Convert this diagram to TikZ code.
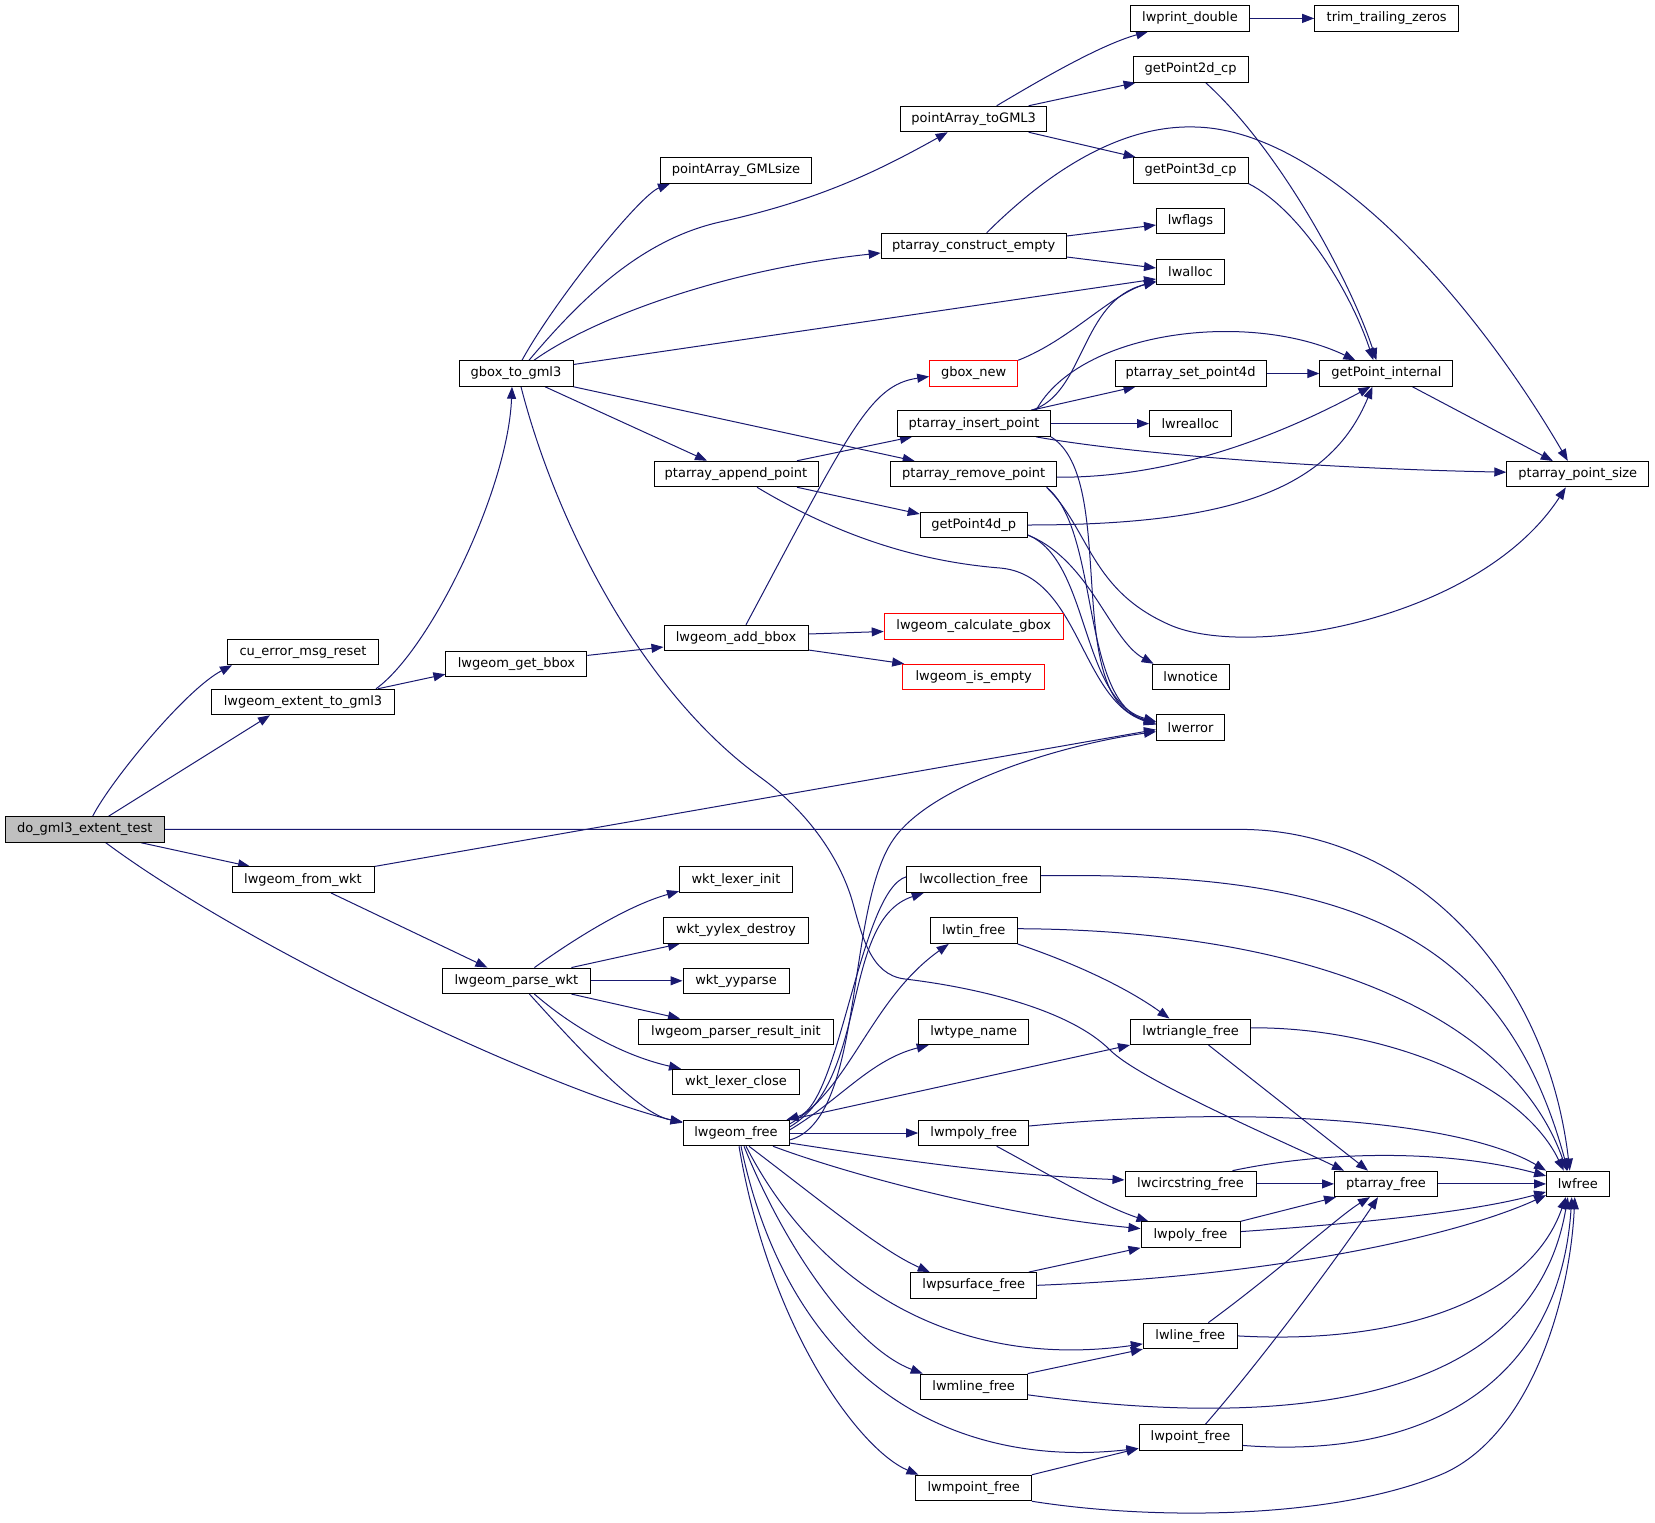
\documentclass[tikz,border=0pt]{standalone}
\usepackage{fontspec}
\setmainfont{DejaVu Sans}
\usetikzlibrary{arrows.meta}
\definecolor{edgec}{HTML}{191970}
\definecolor{rootgray}{HTML}{BFBFBF}
\pgfdeclarelayer{bg}
\pgfsetlayers{bg,main}
\tikzset{
  nb/.style={draw=black, line width=1pt, fill=white, minimum height=25.5pt, inner sep=0pt, font=\fontsize{13}{15}\selectfont},
  rd/.style={nb, draw=red},
  e/.style={draw=edgec, line width=1pt, -{Triangle[length=12pt,width=9pt]}},
}
\begin{document}
\begin{tikzpicture}[x=1pt,y=-1pt]
\useasboundingbox (0,0) rectangle (1655,1523);
% column 1
\node[nb, minimum width=159pt, fill=rootgray] (A) at (84.7,829.4) {do\_gml3\_extent\_test};
% column 2
\node[nb, minimum width=151pt] (cu) at (303,652) {cu\_error\_msg\_reset};
\node[nb, minimum width=183pt] (ext) at (303,702) {lwgeom\_extent\_to\_gml3};
\node[nb, minimum width=142pt] (fw) at (303,879.7) {lwgeom\_from\_wkt};
% column 3
\node[nb, minimum width=114pt] (gb) at (516,373.5) {gbox\_to\_gml3};
\node[nb, minimum width=141pt] (gbb) at (516.4,664) {lwgeom\_get\_bbox};
\node[nb, minimum width=148pt] (pw) at (516.4,980.8) {lwgeom\_parse\_wkt};
% column 4
\node[nb, minimum width=151pt] (gml) at (736,170.5) {pointArray\_GMLsize};
\node[nb, minimum width=164pt] (app) at (736,474) {ptarray\_append\_point};
\node[nb, minimum width=144pt] (addb) at (736,638) {lwgeom\_add\_bbox};
\node[nb, minimum width=113pt] (wli) at (736,879.7) {wkt\_lexer\_init};
\node[nb, minimum width=145pt] (wyd) at (736,930.4) {wkt\_yylex\_destroy};
\node[nb, minimum width=106pt] (wyp) at (736,980.8) {wkt\_yyparse};
\node[nb, minimum width=195pt] (wpr) at (736,1031.8) {lwgeom\_parser\_result\_init};
\node[nb, minimum width=127pt] (wlc) at (736,1082) {wkt\_lexer\_close};
\node[nb, minimum width=106pt] (lf) at (736,1133) {lwgeom\_free};
% column 5
\node[nb, minimum width=146pt] (tg) at (973.7,119) {pointArray\_toGML3};
\node[nb, minimum width=185pt] (pce) at (973.7,246) {ptarray\_construct\_empty};
\node[rd, minimum width=88pt] (gbn) at (973.7,373.5) {gbox\_new};
\node[nb, minimum width=153pt] (pip) at (974,423.6) {ptarray\_insert\_point};
\node[nb, minimum width=166pt] (prp) at (973.7,474.2) {ptarray\_remove\_point};
\node[nb, minimum width=107pt] (g4) at (973.7,525) {getPoint4d\_p};
\node[rd, minimum width=179pt] (lcg) at (973.7,626.5) {lwgeom\_calculate\_gbox};
\node[rd, minimum width=142pt] (lie) at (973.7,677) {lwgeom\_is\_empty};
\node[nb, minimum width=133.5pt] (lcf) at (973.7,879.7) {lwcollection\_free};
\node[nb, minimum width=87pt] (ltf) at (973.7,930.7) {lwtin\_free};
\node[nb, minimum width=110pt] (ltn) at (973.7,1031.8) {lwtype\_name};
\node[nb, minimum width=110pt] (lmpf) at (973.7,1133) {lwmpoly\_free};
\node[nb, minimum width=126pt] (lps) at (973.8,1285.3) {lwpsurface\_free};
\node[nb, minimum width=107pt] (lml) at (973.7,1386.8) {lwmline\_free};
\node[nb, minimum width=115.5pt] (lmp) at (973.7,1488) {lwmpoint\_free};
% column 6
\node[nb, minimum width=118.6pt] (lpd) at (1190,18.4) {lwprint\_double};
\node[nb, minimum width=115pt] (g2) at (1190.6,69.4) {getPoint2d\_cp};
\node[nb, minimum width=115pt] (g3) at (1190.6,170.4) {getPoint3d\_cp};
\node[nb, minimum width=68pt] (lfl) at (1190.5,221) {lwflags};
\node[nb, minimum width=68pt] (lal) at (1190.5,272) {lwalloc};
\node[nb, minimum width=151pt] (sp4) at (1190.5,373.5) {ptarray\_set\_point4d};
\node[nb, minimum width=81.5pt] (lra) at (1190.3,423.6) {lwrealloc};
\node[nb, minimum width=77pt] (lno) at (1190.6,677) {lwnotice};
\node[nb, minimum width=68pt] (ler) at (1190.5,727.6) {lwerror};
\node[nb, minimum width=120pt] (ltr) at (1190.5,1031.8) {lwtriangle\_free};
\node[nb, minimum width=131pt] (lcs) at (1190.5,1183.9) {lwcircstring\_free};
\node[nb, minimum width=99pt] (lpo) at (1190.5,1234.6) {lwpoly\_free};
\node[nb, minimum width=94pt] (lli) at (1190.3,1335.9) {lwline\_free};
\node[nb, minimum width=103pt] (lpt) at (1190.5,1437.4) {lwpoint\_free};
% column 7
\node[nb, minimum width=144pt] (ttz) at (1386.7,18.4) {trim\_trailing\_zeros};
\node[nb, minimum width=133pt] (gpi) at (1386.4,373.5) {getPoint\_internal};
\node[nb, minimum width=103pt] (paf) at (1386,1183.9) {ptarray\_free};
% column 8
\node[nb, minimum width=142pt] (pps) at (1577.8,474.2) {ptarray\_point\_size};
\node[nb, minimum width=62.5pt] (lwf) at (1577.8,1183.9) {lwfree};

\begin{pgfonlayer}{bg}
% from root
\draw[e] ([xshift=8]A.north) .. controls (110,782) and (185,690) .. ([xshift=-71]cu.south);
\draw[e] ([xshift=24]A.north) -- ([xshift=-33]ext.south);
\draw[e] ([xshift=56]A.south) -- ([xshift=-53]fw.north);
\draw[e] (A.east) -- (1240,829.4) .. controls (1400,829.4) and (1545,960) .. ([xshift=-8]lwf.north);
\draw[e] ([xshift=21]A.south) .. controls (250,950) and (550,1090) .. ([yshift=-3]lf.north west);
% column 2
\draw[e] ([xshift=73]ext.north) .. controls (430,650) and (508,490) .. ([xshift=-4]gb.south);
\draw[e] ([xshift=75]ext.north) -- ([yshift=3]gbb.south west);
\draw[e] ([yshift=8.6]gbb.east) -- ([yshift=-9]addb.west);
\draw[e] ([xshift=10]addb.north) .. controls (850,430) and (870,385) .. ([yshift=-3]gbn.west);
\draw[e] ([yshift=4]addb.east) -- ([yshift=-5]lcg.west);
\draw[e] ([yshift=-12]addb.east) -- ([xshift=2]lie.north west);
\draw[e] (fw.north east) -- ([yshift=-2]ler.west);
\draw[e] ([xshift=28]fw.south) -- ([xshift=-29]pw.north);
% gbox_to_gml3
\draw[e] ([xshift=6]gb.north) .. controls (555,300) and (640,195) .. ([xshift=-66]gml.south);
\draw[e] ([xshift=13]gb.north) .. controls (580,300) and (640,240) .. (720,222) .. controls (820,200) and (880,170) .. ([xshift=-26]tg.south);
\draw[e] ([xshift=18]gb.north) .. controls (590,320) and (720,270) .. ([yshift=-7]pce.west);
\draw[e] ([yshift=9]gb.east) -- ([yshift=-7]lal.west);
\draw[e] ([xshift=29]gb.south) -- ([xshift=-29]app.north);
\draw[e] (gb.south east) -- ([xshift=-59]prp.north);
\draw[e] ([xshift=5]gb.south) .. controls (555,520) and (640,690) .. (760,777) .. controls (810,813) and (840,860) .. (852,900) .. controls (862,935) and (870,975) .. (905,979) .. controls (980,988) and (1070,1010) .. (1110,1050) .. controls (1140,1080) and (1280,1140) .. ([xshift=-42]paf.north);
% lwgeom_parse_wkt
\draw[e] ([xshift=18]pw.north) .. controls (580,935) and (630,905) .. ([yshift=-11.5]wli.west);
\draw[e] ([xshift=55]pw.north) -- ([xshift=-56]wyd.south);
\draw[e] (pw.east) -- (wyp.west);
\draw[e] ([xshift=55]pw.south) -- ([xshift=-56]wpr.north);
\draw[e] ([xshift=18]pw.south) .. controls (570,1025) and (620,1055) .. ([xshift=-55]wlc.north);
\draw[e] ([xshift=13]pw.south) .. controls (580,1050) and (640,1115) .. ([yshift=-2]lf.north west);
% lwgeom_free
\draw[e] ([yshift=-7]lf.east) .. controls (865,1120) and (845,910) .. (893,840) .. controls (930,785) and (1060,745) .. ([yshift=-4]ler.west);
\draw[e] ([yshift=6]lf.east) .. controls (870,1080) and (840,920) .. ([xshift=-50]lcf.south);
\draw[e] ([yshift=3]lcf.west) .. controls (860,890) and (840,1105) .. ([xshift=-3]lf.north east);
\draw[e] ([yshift=9]lf.east) .. controls (850,1090) and (870,1000) .. ([xshift=-25]ltf.south);
\draw[e] ([yshift=3]lf.east) .. controls (840,1100) and (870,1060) .. ([xshift=-45]ltn.south);
\draw[e] (lf.north east) -- (ltr.south west);
\draw[e] (lf.east) -- (lmpf.west);
\draw[e] ([yshift=-10]lf.east) .. controls (900,1160) and (1000,1175) .. ([yshift=4]lcs.west);
\draw[e] ([xshift=37]lf.south) .. controls (850,1175) and (1000,1215) .. ([yshift=6]lpo.west);
\draw[e] ([xshift=13]lf.south) .. controls (820,1200) and (880,1250) .. ([xshift=-44]lps.north);
\draw[e] ([xshift=10]lf.south) .. controls (820,1290) and (960,1370) .. ([yshift=-8]lli.west);
\draw[e] ([xshift=8]lf.south) .. controls (790,1260) and (860,1350) .. ([xshift=3]lml.north west);
\draw[e] ([xshift=5]lf.south) .. controls (790,1380) and (950,1470) .. ([yshift=-11]lpt.west);
\draw[e] ([xshift=3]lf.south) .. controls (770,1330) and (860,1450) .. ([xshift=3]lmp.north west);
% pointArray_toGML3 etc.
\draw[e] ([xshift=23]tg.north) .. controls (1040,80) and (1100,45) .. ([xshift=-42]lpd.south);
\draw[e] ([xshift=55]tg.north) -- ([xshift=-55]g2.south);
\draw[e] ([xshift=55]tg.south) -- ([xshift=-55]g3.north);
\draw[e] (lpd.east) -- (ttz.west);
\draw[e] ([xshift=15]g2.south) .. controls (1280,150) and (1350,280) .. ([xshift=-10]gpi.north);
\draw[e] (g3.south east) .. controls (1300,210) and (1350,290) .. ([xshift=-13]gpi.north);
\draw[e] ([yshift=10]pce.east) -- ([yshift=-4]lfl.west);
\draw[e] ([yshift=-11]pce.east) -- ([yshift=4]lal.west);
\draw[e] ([xshift=13]pce.north) .. controls (1060,160) and (1130,125) .. (1195,127) .. controls (1330,130) and (1480,310) .. ([xshift=-10]pps.north);
\draw[e] (gbn.north east) .. controls (1070,340) and (1110,295) .. ([yshift=-9]lal.west);
\draw[e] ([xshift=57]pip.north) .. controls (1085,395) and (1080,300) .. ([yshift=-10]lal.west);
\draw[e] ([xshift=62]pip.north) .. controls (1080,330) and (1250,310) .. ([xshift=-31]gpi.north);
\draw[e] ([xshift=57]pip.north) -- ([xshift=-55]sp4.south);
\draw[e] (pip.east) -- (lra.west);
\draw[e] ([xshift=62]pip.south) .. controls (1120,452) and (1300,468) .. ([yshift=2]pps.west);
\draw[e] (pip.south east) .. controls (1120,480) and (1060,700) .. ([yshift=5.6]ler.west);
\draw[e] (sp4.east) -- (gpi.west);
\draw[e] ([xshift=26]gpi.south) -- ([xshift=-25]pps.north);
\draw[e] ([yshift=-3]prp.east) .. controls (1180,478) and (1290,430) .. ([xshift=-16]gpi.south);
\draw[e] ([xshift=73]prp.south) .. controls (1090,530) and (1090,590) .. (1170,625) .. controls (1250,660) and (1480,620) .. ([xshift=-12]pps.south);
\draw[e] ([xshift=73]prp.south) .. controls (1100,530) and (1080,700) .. ([yshift=4]ler.west);
\draw[e] (g4.east) .. controls (1230,525) and (1330,490) .. ([xshift=-14]gpi.south);
\draw[e] ([yshift=-10]g4.east) .. controls (1090,560) and (1080,700) .. ([yshift=6]ler.west);
\draw[e] ([yshift=-10]g4.east) .. controls (1090,560) and (1110,640) .. ([xshift=2]lno.north west);
\draw[e] ([xshift=61]app.north) -- ([xshift=-62]pip.south);
\draw[e] ([xshift=61]app.south) -- ([yshift=11]g4.west);
\draw[e] ([xshift=21]app.south) .. controls (820,525) and (900,560) .. (1000,568) .. controls (1080,575) and (1080,700) .. ([yshift=3]ler.west);
% free functions
\draw[e] ([yshift=4]lcf.east) .. controls (1330,872) and (1500,920) .. ([xshift=-10]lwf.north);
\draw[e] ([yshift=2]ltf.east) .. controls (1300,930) and (1510,1010) .. ([xshift=-11]lwf.north);
\draw[e] (ltf.south east) .. controls (1080,965) and (1130,990) .. ([xshift=-21]ltr.north);
\draw[e] ([yshift=4]ltr.east) .. controls (1380,1027) and (1520,1080) .. ([xshift=-14]lwf.north);
\draw[e] ([xshift=18]ltr.south) -- ([xshift=-18]paf.north);
\draw[e] ([yshift=7]lmpf.east) .. controls (1250,1105) and (1460,1120) .. (lwf.north west);
\draw[e] ([xshift=23]lmpf.south) .. controls (1050,1175) and (1100,1205) .. ([xshift=-42]lpo.north);
\draw[e] (lcs.east) -- (paf.west);
\draw[e] ([xshift=42]lcs.north) .. controls (1330,1150) and (1450,1150) .. ([yshift=8]lwf.west);
\draw[e] (paf.east) -- (lwf.west);
\draw[e] (lpo.north east) -- ([xshift=2]paf.south west);
\draw[e] ([yshift=3]lpo.east) .. controls (1380,1222) and (1480,1210) .. ([yshift=-8]lwf.west);
\draw[e] ([xshift=55]lps.north) -- (lpo.south west);
\draw[e] (lps.east) .. controls (1300,1275) and (1470,1230) .. ([yshift=2]lwf.south west);
\draw[e] ([xshift=18]lli.north) .. controls (1280,1270) and (1340,1215) .. ([xshift=-16]paf.south);
\draw[e] (lli.east) .. controls (1400,1345) and (1530,1300) .. ([xshift=-12]lwf.south);
\draw[e] (lml.north east) -- (lli.south west);
\draw[e] ([yshift=-8]lml.east) .. controls (1250,1425) and (1530,1420) .. ([xshift=-10]lwf.south);
\draw[e] ([xshift=15]lpt.north) .. controls (1270,1350) and (1350,1240) .. ([xshift=-8]paf.south);
\draw[e] ([yshift=-8]lpt.east) .. controls (1430,1460) and (1560,1380) .. ([xshift=-6]lwf.south);
\draw[e] (lmp.north east) -- ([yshift=-11]lpt.west);
\draw[e] (lmp.south east) .. controls (1150,1520) and (1330,1520) .. (1440,1475) .. controls (1530,1438) and (1570,1300) .. ([xshift=-3]lwf.south);
\end{pgfonlayer}
\end{tikzpicture}
\end{document}
